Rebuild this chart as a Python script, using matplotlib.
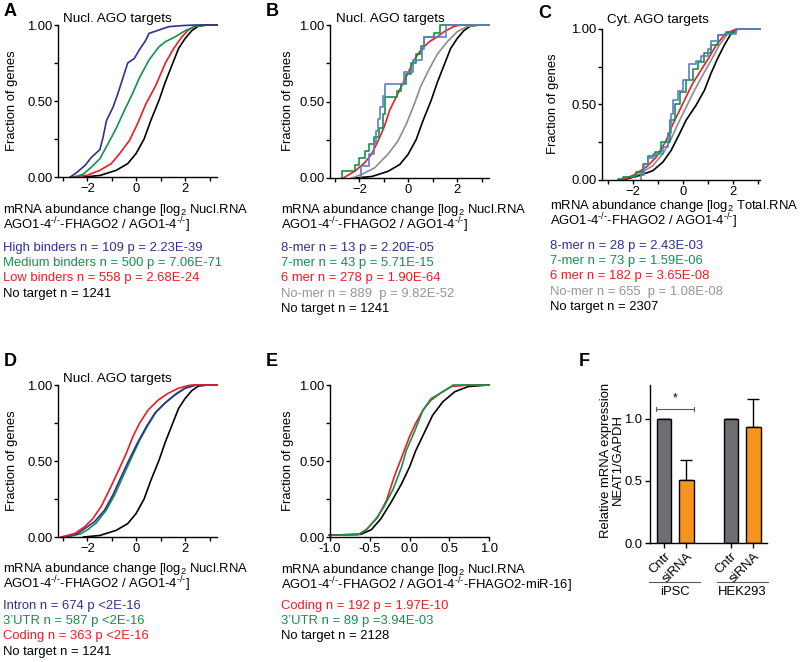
import matplotlib
matplotlib.use('Agg')
import matplotlib.pyplot as plt
import numpy as np

plt.rcParams['font.family'] = ['Liberation Sans', 'DejaVu Sans']
plt.rcParams['mathtext.fontset'] = 'custom'
plt.rcParams['mathtext.rm'] = 'Liberation Sans'
plt.rcParams['mathtext.it'] = 'Liberation Sans:italic'
plt.rcParams['axes.linewidth'] = 1.0

BLUE = '#2e3192'
LBLUE = '#5b7fc9'
GREEN = '#12924a'
RED = '#ed1c24'
GRAY = '#8c8c8c'
BLACK = '#000000'
FS = 9.4

# ---- data (x = log2 change, y = cumulative fraction) ----
# nuclear "no target" set, n = 1241 (panels A, B, D)
nt_nucl_x = [-2.16, -1.49, -0.82, -0.35, -0.01, 0.32, 0.59, 0.93, 1.19, 1.46, 1.73, 2.0, 2.27, 2.54, 2.94]
nt_nucl_y = [0, 0.01, 0.044, 0.088, 0.154, 0.25, 0.37, 0.505, 0.626, 0.736, 0.846, 0.912, 0.963, 0.993, 1.0]

# A
a_high_x = [-2.7, -2.43, -2.09, -1.83, -1.49, -1.36, -1.22, -0.95, -0.75, -0.62, -0.35, -0.08, 0.12, 0.39, 0.52, 0.93, 1.33, 1.87, 2.4]
a_high_y = [0, 0.03, 0.077, 0.13, 0.18, 0.26, 0.37, 0.46, 0.55, 0.615, 0.75, 0.78, 0.835, 0.9, 0.945, 0.967, 0.989, 0.996, 1.0]
a_med_x = [-2.5, -2.16, -1.83, -1.49, -1.15, -0.82, -0.48, -0.15, 0.12, 0.52, 0.93, 1.19, 1.6, 2.0, 2.4, 2.8]
a_med_y = [0, 0.02, 0.066, 0.12, 0.22, 0.32, 0.44, 0.55, 0.65, 0.77, 0.857, 0.89, 0.923, 0.963, 0.99, 1.0]
a_low_x = [-2.7, -2.03, -1.49, -1.02, -0.68, -0.28, 0.05, 0.39, 0.79, 1.19, 1.53, 1.87, 2.13, 2.4, 2.8]
a_low_y = [0, 0.01, 0.044, 0.088, 0.154, 0.24, 0.35, 0.48, 0.6, 0.75, 0.846, 0.923, 0.967, 0.993, 1.0]

# B
b_8mer_x = [-1.92, -1.62, -1.42, -1.33, -1.24, -1.15, -1.04, -0.97, -0.16, 0.18, 0.58, 0.65, 1.53]
b_7mer_x = [-2.7, -2.19, -2.0, -1.78, -1.6, -1.4, -1.2, -1.05, -0.97, -0.45, -0.3, -0.1, 0.1, 0.3, 0.5, 0.65, 1.05, 1.3]
b_7mer_y = [0.045, 0.088, 0.13, 0.175, 0.22, 0.27, 0.33, 0.42, 0.53, 0.57, 0.615, 0.68, 0.75, 0.81, 0.86, 0.923, 0.945, 1.0]
b_6mer_x = [-2.66, -2.19, -1.78, -1.51, -1.24, -0.97, -0.77, -0.57, -0.3, -0.03, 0.24, 0.51, 0.85, 1.19, 1.46, 1.86, 2.14]
b_6mer_y = [0, 0.044, 0.1, 0.154, 0.24, 0.34, 0.44, 0.505, 0.593, 0.68, 0.77, 0.835, 0.89, 0.923, 0.956, 0.99, 1.0]
b_nomer_x = [-2.32, -1.92, -1.38, -0.84, -0.43, -0.09, 0.24, 0.51, 0.85, 1.19, 1.59, 2.0, 2.41, 2.81]
b_nomer_y = [0, 0.022, 0.066, 0.154, 0.24, 0.35, 0.48, 0.6, 0.71, 0.81, 0.89, 0.956, 0.99, 1.0]

# C
c_8mer_x = [-1.67, -1.55, -1.4, -1.2, -0.8, -0.6, -0.47, -0.4, -0.2, 0.0, 0.27, 0.53, 0.73, 1.0, 1.13, 1.4, 1.67, 2.13]
c_8mer_y = [0.036, 0.107, 0.143, 0.17, 0.22, 0.31, 0.44, 0.53, 0.59, 0.66, 0.77, 0.79, 0.82, 0.87, 0.92, 0.96, 0.97, 1.0]
c_7mer_x = [-2.6, -2.4, -1.87, -1.6, -1.4, -1.13, -0.87, -0.53, -0.33, -0.13, 0.13, 0.4, 0.6, 0.87, 1.13, 1.4, 1.73, 2.13]
c_7mer_y = [0.005, 0.018, 0.05, 0.106, 0.16, 0.184, 0.25, 0.395, 0.505, 0.583, 0.66, 0.738, 0.78, 0.838, 0.894, 0.96, 0.982, 1.0]
c_6mer_x = [-2.5, -2.0, -1.47, -1.07, -0.67, -0.4, -0.13, 0.13, 0.4, 0.73, 1.07, 1.33, 1.67, 2.0, 2.2]
c_6mer_y = [0, 0.03, 0.084, 0.15, 0.26, 0.37, 0.46, 0.55, 0.64, 0.727, 0.816, 0.89, 0.96, 0.99, 1.0]
c_nomer_x = [-2.47, -1.73, -1.2, -0.8, -0.47, -0.2, 0.13, 0.47, 0.8, 1.13, 1.47, 1.8, 2.13, 2.3]
c_nomer_y = [0, 0.04, 0.095, 0.173, 0.27, 0.37, 0.48, 0.594, 0.694, 0.79, 0.894, 0.967, 0.998, 1.0]
c_nt_x = [-2.4, -1.73, -1.2, -0.8, -0.47, -0.13, 0.13, 0.53, 0.87, 1.13, 1.4, 1.67, 1.93, 2.2, 2.35]
c_nt_y = [0, 0.03, 0.062, 0.118, 0.195, 0.306, 0.395, 0.494, 0.594, 0.705, 0.805, 0.894, 0.967, 0.998, 1.0]

# D
d_intron_x = [-2.95, -2.4, -2.05, -1.71, -1.3, -0.96, -0.62, -0.27, 0.07, 0.41, 0.75, 1.16, 1.58, 1.99, 2.4, 2.6]
d_intron_y = [0, 0.022, 0.062, 0.1, 0.176, 0.275, 0.396, 0.516, 0.626, 0.725, 0.813, 0.879, 0.934, 0.978, 0.998, 1.0]
d_utr_x = [-2.8, -2.26, -1.99, -1.64, -1.23, -0.89, -0.55, -0.21, 0.14, 0.48, 0.82, 1.23, 1.64, 2.05, 2.47]
d_utr_y = [0, 0.022, 0.048, 0.092, 0.176, 0.275, 0.396, 0.516, 0.637, 0.736, 0.824, 0.89, 0.945, 0.985, 1.0]
d_coding_x = [-3.08, -2.53, -2.12, -1.78, -1.44, -1.1, -0.75, -0.41, -0.14, 0.14, 0.48, 0.89, 1.3, 1.71, 2.12, 2.26]
d_coding_y = [0, 0.022, 0.066, 0.12, 0.2, 0.31, 0.43, 0.55, 0.66, 0.75, 0.835, 0.9, 0.945, 0.978, 0.996, 1.0]

# E
e_coding_x = [-1.01, -0.63, -0.53, -0.4, -0.29, -0.19, -0.08, 0.0, 0.08, 0.17, 0.27, 0.4, 0.53, 0.74]
e_coding_y = [0.012, 0.018, 0.055, 0.13, 0.24, 0.4, 0.55, 0.66, 0.75, 0.835, 0.9, 0.95, 0.99, 1.0]
e_utr_x = [-1.01, -0.65, -0.55, -0.42, -0.32, -0.21, -0.1, -0.04, 0.06, 0.17, 0.27, 0.42, 0.55]
e_utr_y = [0.012, 0.015, 0.044, 0.12, 0.2, 0.31, 0.46, 0.57, 0.69, 0.835, 0.91, 0.956, 1.0]
e_nt_x = [-1.01, -0.61, -0.48, -0.36, -0.23, -0.1, 0.0, 0.08, 0.19, 0.29, 0.42, 0.57, 0.74, 0.99]
e_nt_y = [0.012, 0.018, 0.048, 0.12, 0.23, 0.35, 0.46, 0.57, 0.69, 0.8, 0.89, 0.956, 0.99, 1.0]

# F
f_groups = ['iPSC', 'HEK293']
f_conditions = ['Cntr', 'siRNA', 'Cntr', 'siRNA']
f_values = [1.0, 0.51, 1.0, 0.93]
f_errors = [0.0, 0.155, 0.0, 0.23]

W, H = 800, 662
fig = plt.figure(figsize=(W / 100, H / 100), dpi=100)


def px_axes(l, t, r, b):
    return fig.add_axes([l / W, 1 - b / H, (r - l) / W, (b - t) / H])


def ftxt(x, y, s, **kw):
    kw.setdefault('va', 'center')
    kw.setdefault('fontsize', FS)
    fig.text(x / W, 1 - y / H, s, **kw)


def style_cdf(ax, xlim, xticks, xlabels, minor=None):
    ax.set_xlim(*xlim)
    ax.set_ylim(0, 1.0)
    ax.spines['top'].set_visible(False)
    ax.spines['right'].set_visible(False)
    ax.set_xticks(xticks)
    ax.set_xticklabels(xlabels)
    if minor is not None:
        ax.set_xticks(minor, minor=True)
    ax.set_yticks([0, 0.5, 1.0])
    ax.set_yticklabels(['0.00', '0.50', '1.00'])
    ax.set_yticks([0.25, 0.75], minor=True)
    ax.tick_params(which='both', direction='out', labelsize=FS, width=1.0, pad=1.0)
    ax.tick_params(which='major', length=3.0)
    ax.tick_params(which='minor', length=3.0)


def curve(ax, x, y, color, xmax, steps=False):
    xs = list(x) + [xmax]
    ys = list(y) + [1.0]
    if steps:
        xs = [x[0]] + xs
        ys = [0.0] + ys
    ax.plot(xs, ys, color=color, lw=1.2, clip_on=False,
            drawstyle='steps-post' if steps else 'default')


int_ticks = [-2, 0, 2]
int_labels = ['\u22122', '0', '2']
int_minor = [-3, -1, 1, 3]

# ---------------- A ----------------
ax = px_axes(58, 25, 217, 177)
curve(ax, nt_nucl_x, nt_nucl_y, BLACK, 3.3)
curve(ax, a_low_x, a_low_y, RED, 3.3)
curve(ax, a_med_x, a_med_y, GREEN, 3.3)
curve(ax, a_high_x, a_high_y, BLUE, 3.3)
style_cdf(ax, (-3.2, 3.3), int_ticks, int_labels, int_minor)

# ---------------- B ----------------
ax = px_axes(330, 25, 489, 178)
n8 = len(b_8mer_x)
curve(ax, nt_nucl_x, nt_nucl_y, BLACK, 3.3)
curve(ax, b_nomer_x, b_nomer_y, GRAY, 3.3)
curve(ax, b_6mer_x, b_6mer_y, RED, 3.3)
curve(ax, b_7mer_x, b_7mer_y, GREEN, 3.3, steps=True)
curve(ax, b_8mer_x, list(np.arange(1, n8 + 1) / n8), LBLUE, 3.3, steps=True)
style_cdf(ax, (-3.2, 3.3), int_ticks, int_labels, int_minor)

# ---------------- C ----------------
ax = px_axes(602, 29, 760, 180)
curve(ax, c_nt_x, c_nt_y, BLACK, 3.1)
curve(ax, c_nomer_x, c_nomer_y, GRAY, 3.1)
curve(ax, c_6mer_x, c_6mer_y, RED, 3.1)
curve(ax, c_7mer_x, c_7mer_y, GREEN, 3.1, steps=True)
curve(ax, c_8mer_x, c_8mer_y, LBLUE, 3.1, steps=True)
style_cdf(ax, (-3.24, 3.1), int_ticks, int_labels, int_minor)

# ---------------- D ----------------
ax = px_axes(58, 385, 217, 537)
curve(ax, nt_nucl_x, nt_nucl_y, BLACK, 3.3)
curve(ax, d_utr_x, d_utr_y, GREEN, 3.3)
curve(ax, d_intron_x, d_intron_y, BLUE, 3.3)
curve(ax, d_coding_x, d_coding_y, RED, 3.3)
style_cdf(ax, (-3.2, 3.3), int_ticks, int_labels, int_minor)

# ---------------- E ----------------
ax = px_axes(330, 385, 489, 537)
curve(ax, e_nt_x, e_nt_y, BLACK, 1.0)
curve(ax, e_coding_x, e_coding_y, RED, 1.0)
curve(ax, e_utr_x, e_utr_y, GREEN, 1.0)
style_cdf(ax, (-1.0, 1.0), [-1.0, -0.5, 0.0, 0.5, 1.0],
          ['-1.0', '-0.5', '0.0', '0.5', '1.0'])

# ---------------- F ----------------
ax = px_axes(650, 385, 767, 543)
pos = [0, 1, 3, 4]
cols = ['#6d6e71', '#f7941d', '#6d6e71', '#f7941d']
ax.bar(pos, f_values, width=0.66, color=cols, edgecolor='black', linewidth=1.0, zorder=2)
ax.errorbar(pos, f_values, yerr=[[0] * 4, f_errors], fmt='none', ecolor='black',
            elinewidth=1.0, capsize=4, capthick=1.0, zorder=1)
ax.set_xlim(-0.63, 4.62)
ax.set_ylim(0, 1.27)
ax.spines['top'].set_visible(False)
ax.spines['right'].set_visible(False)
ax.set_yticks([0, 0.5, 1.0])
ax.set_yticklabels(['0.0', '0.5', '1.0'])
ax.set_xticks(pos)
ax.set_xticklabels(f_conditions, rotation=45, ha='right', va='top', rotation_mode='anchor')
ax.tick_params(direction='out', labelsize=FS, width=1.0, length=3.5, pad=2)
ax.plot([-0.37, 1.35], [1.08, 1.08], color='#58595b', lw=0.8, clip_on=False)
ax.plot([-0.37, -0.37], [1.065, 1.095], color='#58595b', lw=0.8)
ax.plot([1.35, 1.35], [1.065, 1.095], color='#58595b', lw=0.8)
ax.text(0.5, 1.11, '*', ha='center', va='bottom', fontsize=8.5)

# group lines under F
for (x0, x1), g in zip([(649, 700), (717, 768)], f_groups):
    fig.add_artist(plt.Line2D([x0 / W, x1 / W], [1 - 582 / H, 1 - 582 / H],
                              color='#58595b', lw=0.8))
    ftxt((x0 + x1) / 2, 592, g, ha='center')
ftxt(612, 460, 'Relative mRNA expression\nNEAT1/GAPDH', ha='center', rotation=90,
     linespacing=1.0)

# ---------------- panel letters, titles, labels ----------------
for x, y, s in [(4, 12, 'A'), (266, 12, 'B'), (538, 13, 'C'),
                (4, 362, 'D'), (266, 362, 'E'), (579, 362, 'F')]:
    ftxt(x, y, s, fontsize=13, fontweight='bold')

ftxt(63, 19, 'Nucl. AGO targets', fontsize=9.7)
ftxt(336, 19, 'Nucl. AGO targets', fontsize=9.7)
ftxt(607, 20, 'Cyt. AGO targets', fontsize=9.7)
ftxt(63, 379, 'Nucl. AGO targets', fontsize=9.7)

for x, y in [(12, 101), (288, 101), (553, 104), (12, 461), (288, 461)]:
    ftxt(x, y, 'Fraction of genes', rotation=90, ha='center')

sup = r'$^{\text{-/-}}$'
nucl = r'mRNA abundance change [log$_2$ Nucl.RNA'
total = r'mRNA abundance change [log$_2$ Total.RNA'
line2 = 'AGO1-4' + sup + '-FHAGO2 / AGO1-4' + sup + ']'
line2e = 'AGO1-4' + sup + '-FHAGO2 / AGO1-4' + sup + '-FHAGO2-miR-16]'
for x, y, s in [(3, 202, nucl + '\n' + line2), (281, 202, nucl + '\n' + line2),
                (550, 198, total + '\n' + line2), (3, 561, nucl + '\n' + line2),
                (281, 562, nucl + '\n' + line2e)]:
    ftxt(x, y, s, va='top', linespacing=0.8)

# legend text blocks
TGRAY = '#939598'
blocks = [
    (3, 248, [('High binders n = 109 p = 2.23E-39', BLUE),
              ('Medium binders n = 500 p = 7.06E-71', GREEN),
              ('Low binders n = 558 p = 2.68E-24', RED),
              ('No target n = 1241', BLACK)]),
    (281, 248, [('8-mer n = 13 p = 2.20E-05', BLUE),
                ('7-mer n = 43 p = 5.71E-15', GREEN),
                ('6 mer n = 278 p = 1.90E-64', RED),
                ('No-mer n = 889  p = 9.82E-52', TGRAY),
                ('No target n = 1241', BLACK)]),
    (550, 246, [('8-mer n = 28 p = 2.43E-03', BLUE),
                ('7-mer n = 73 p = 1.59E-06', GREEN),
                ('6 mer n = 182 p = 3.65E-08', RED),
                ('No-mer n = 655  p = 1.08E-08', TGRAY),
                ('No target n = 2307', BLACK)]),
    (3, 606, [('Intron n = 674 p <2E-16', BLUE),
              ('3\u2019UTR n = 587 p <2E-16', GREEN),
              ('Coding n = 363 p <2E-16', RED),
              ('No target n = 1241', BLACK)]),
    (281, 606, [('Coding n = 192 p = 1.97E-10', RED),
                ('3\u2019UTR n = 89 p =3.94E-03', GREEN),
                ('No target n = 2128', BLACK)]),
]
for x, y0, lines in blocks:
    for i, (s, c) in enumerate(lines):
        ftxt(x, y0 + i * 15.2, s, color=c)

fig.savefig('out.png', dpi=100)
